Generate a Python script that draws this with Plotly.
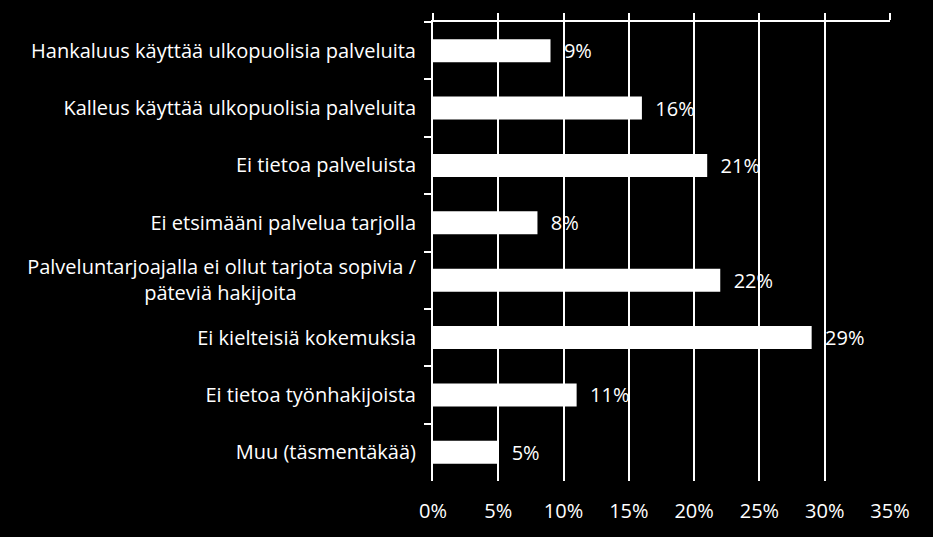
import plotly.graph_objects as go

# Category labels (top to bottom) and shares in percent
categories = [
    "Hankaluus käyttää ulkopuolisia palveluita",
    "Kalleus käyttää ulkopuolisia palveluita",
    "Ei tietoa palveluista",
    "Ei etsimääni palvelua tarjolla",
    "Palveluntarjoajalla ei ollut tarjota sopivia /<br>päteviä hakijoita" + "\u00a0" * 23,
    "Ei kielteisiä kokemuksia",
    "Ei tietoa työnhakijoista",
    "Muu (täsmentäkää)",
]
values = [9, 16, 21, 8, 22, 29, 11, 5]
x_ticks = [0, 5, 10, 15, 20, 25, 30, 35]
x_tick_labels = [f"{t}%" for t in x_ticks]

FONT = "Open Sans"
FSIZE = 20

fig = go.Figure()

# bars live on the top axis (which carries the axis line and gridlines)
fig.add_trace(go.Bar(
    x=values, y=categories, orientation="h",
    xaxis="x2", yaxis="y",
    marker=dict(color="white", line=dict(width=0)),
    text=[f"\u00a0\u00a0{v}%" for v in values],
    textposition="outside",
    constraintext="none",
    textfont=dict(color="white", size=FSIZE, family=FONT),
    cliponaxis=False,
    hoverinfo="skip",
))

# invisible trace so the bottom (label) axis gets drawn
fig.add_trace(go.Scatter(
    x=[0], y=[categories[0]], mode="markers",
    marker=dict(opacity=0), xaxis="x", yaxis="y",
    hoverinfo="skip", showlegend=False,
))

fig.update_layout(
    width=933, height=537,
    paper_bgcolor="black", plot_bgcolor="black",
    margin=dict(l=433, r=43, t=22, b=56),
    showlegend=False,
    bargap=0.6,
    font=dict(family=FONT, color="white", size=FSIZE),
    xaxis=dict(
        range=[0, 35], tickvals=x_ticks, ticktext=x_tick_labels,
        showgrid=False, zeroline=False, showline=False,
        ticks="outside", ticklen=12, tickcolor="black",
        tickfont=dict(size=FSIZE, color="white", family=FONT),
        fixedrange=True,
    ),
    xaxis2=dict(
        range=[0, 35], tickvals=x_ticks, overlaying="x", side="top",
        showticklabels=False,
        showgrid=True, gridcolor="white", gridwidth=2,
        zeroline=False,
        showline=True, linecolor="white", linewidth=2,
        ticks="outside", ticklen=7, tickcolor="white", tickwidth=2,
        fixedrange=True,
    ),
    yaxis=dict(
        type="category", autorange="reversed",
        categoryorder="array", categoryarray=categories,
        showline=True, linecolor="white", linewidth=2,
        ticks="outside", ticklen=7, tickcolor="white", tickwidth=2,
        tickson="boundaries",
        showgrid=False, zeroline=False,
        tickfont=dict(size=FSIZE, color="white", family=FONT),
        ticklabelstandoff=11,
        fixedrange=True,
    ),
)

fig.write_html(
    "out.html",
    config={"displayModeBar": False},
    post_script="document.body.style.margin='0';",
)
